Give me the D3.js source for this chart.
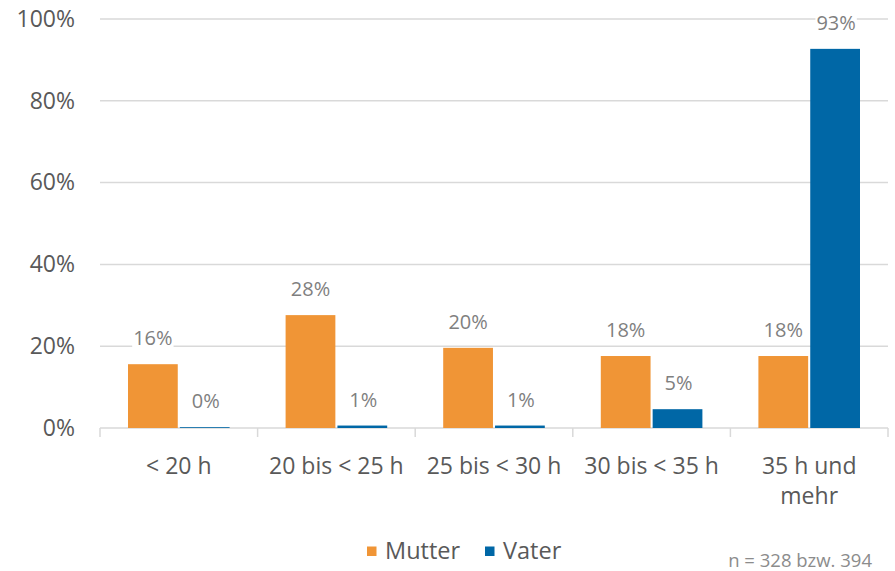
<!DOCTYPE html>
<html>
<head>
<meta charset="utf-8">
<script src="https://cdn.jsdelivr.net/npm/d3@7"></script>
<style>
  html, body { margin: 0; padding: 0; background: #fff; }
  svg { display: block; font-family: "Open Sans", sans-serif; }
</style>
</head>
<body>
<svg id="chart" width="895" height="571"></svg>
<script>
// Wochenarbeitszeit der Eltern nach Stundenklassen
const categories = ["< 20 h", "20 bis < 25 h", "25 bis < 30 h", "30 bis < 35 h", "35 h und mehr"];
const seriesNames = ["Mutter", "Vater"];
const mutter = [15.6, 27.6, 19.6, 17.6, 17.6];
const vater = [0.2, 0.6, 0.6, 4.6, 92.7];
const yTicks = [0, 20, 40, 60, 80, 100];
const colors = ["#F09536", "#0067A6"];
const note = "n = 328 bzw. 394";

const svg = d3.select("#chart");
const margin = { left: 100, right: 7, top: 19, bottom: 143 };
const W = 895, H = 571;
const FONT = "'Open Sans', sans-serif";

const x = d3.scaleBand().domain(categories).range([margin.left, W - margin.right]).paddingInner(0).paddingOuter(0);
const x1 = d3.scaleBand().domain(seriesNames).range([28, x.bandwidth() - 28]).paddingInner(0.04);
const y = d3.scaleLinear().domain([0, 100]).range([H - margin.bottom, margin.top]);

// Gridlines
svg.append("g")
  .selectAll("line")
  .data(yTicks.filter(t => t > 0))
  .join("line")
  .attr("x1", margin.left).attr("x2", W - margin.right)
  .attr("y1", d => y(d)).attr("y2", d => y(d))
  .attr("stroke", "#d9d9d9").attr("stroke-width", 1.5);

// Y axis labels
const yAxis = d3.axisLeft(y).tickValues(yTicks).tickFormat(d => d + "%").tickSize(0).tickPadding(25);
const gy = svg.append("g").attr("transform", `translate(${margin.left},0)`).call(yAxis);
gy.select(".domain").remove();
gy.selectAll("text").attr("font-size", 23).attr("fill", "#595959").attr("font-family", FONT);

// X axis with category separators
const gx = svg.append("g").attr("transform", `translate(0,${y(0)})`);
gx.append("line").attr("x1", margin.left).attr("x2", W - margin.right)
  .attr("y1", 0).attr("y2", 0).attr("stroke", "#d9d9d9").attr("stroke-width", 1.5);
const bounds = categories.map(c => x(c)).concat([x(categories[categories.length - 1]) + x.bandwidth()]);
gx.selectAll("line.sep").data(bounds).join("line").attr("class", "sep")
  .attr("x1", d => d).attr("x2", d => d).attr("y1", 0).attr("y2", 9)
  .attr("stroke", "#d9d9d9").attr("stroke-width", 1.5);

// Category labels, wrapping the long last one
const catLines = { "35 h und mehr": ["35 h und", "mehr"] };
const catG = gx.selectAll("text.cat").data(categories).join("text").attr("class", "cat")
  .attr("x", d => x(d) + x.bandwidth() / 2)
  .attr("text-anchor", "middle")
  .attr("font-size", 23).attr("fill", "#595959");
catG.each(function (d) {
  const lines = catLines[d] || [d];
  d3.select(this).selectAll("tspan").data(lines).join("tspan")
    .attr("x", x(d) + x.bandwidth() / 2)
    .attr("y", (l, i) => 46 + i * 30)
    .text(l => l);
});

// Bars
const data = categories.map((c, i) => ({ cat: c, values: [mutter[i], vater[i]] }));
const groups = svg.append("g").selectAll("g").data(data).join("g")
  .attr("transform", d => `translate(${x(d.cat)},0)`);

groups.selectAll("rect").data(d => d.values.map((v, j) => ({ s: seriesNames[j], v, j })))
  .join("rect")
  .attr("x", d => x1(d.s)).attr("width", x1.bandwidth())
  .attr("y", d => y(d.v)).attr("height", d => y(0) - y(d.v))
  .attr("fill", d => colors[d.j]);

// Value labels with white backing
const labels = groups.selectAll("g.lbl").data(d => d.values.map((v, j) => ({ s: seriesNames[j], v, j })))
  .join("g").attr("class", "lbl")
  .attr("transform", d => `translate(${x1(d.s) + x1.bandwidth() / 2 + (d.j ? 1 : 0)},${y(d.v) - 26})`);
labels.each(function (d) {
  const g = d3.select(this);
  const t = g.append("text").attr("text-anchor", "middle").attr("font-size", 20)
    .attr("fill", "#7f7f7f").attr("dy", "0.35em").text(Math.round(d.v) + "%");
  const bb = t.node().getBBox();
  g.insert("rect", "text").attr("x", bb.x - 1).attr("y", bb.y + 3).attr("width", bb.width + 2).attr("height", bb.height - 6).attr("fill", "#fff");
});

// Legend
const legend = svg.append("g").attr("transform", `translate(367,551)`);
const li = legend.selectAll("g").data(seriesNames).join("g")
  .attr("transform", (d, i) => `translate(${i * 118},0)`);
li.append("rect").attr("x", 0).attr("y", -4.5).attr("width", 9.5).attr("height", 9.5).attr("fill", (d, i) => colors[i]);
li.append("text").attr("x", 18).attr("dy", "0.35em").attr("font-size", 23.5).attr("fill", "#595959").text(d => d);

// Sample size note
svg.append("text").attr("x", 872).attr("y", 567).attr("text-anchor", "end")
  .attr("font-size", 18.5).attr("fill", "#8c8c8c").text(note);
</script>
</body>
</html>
